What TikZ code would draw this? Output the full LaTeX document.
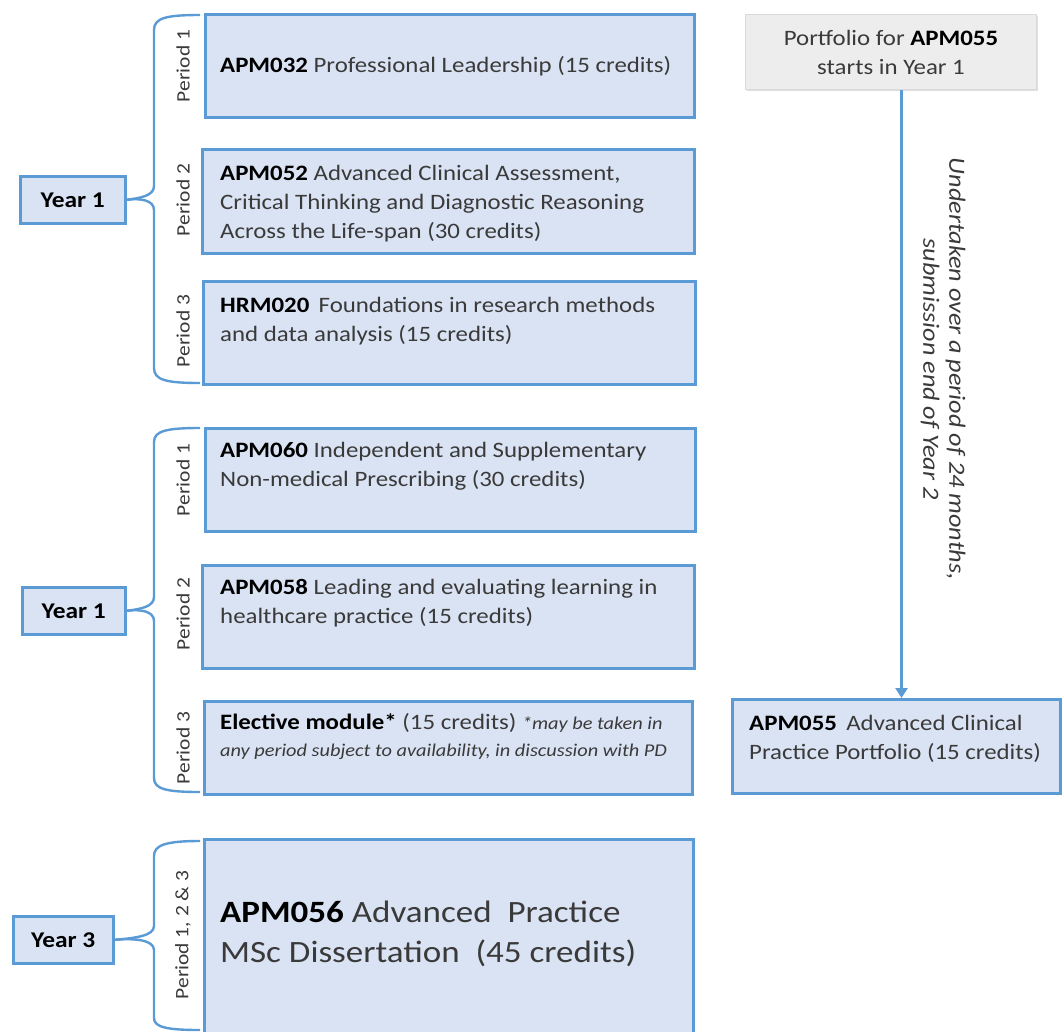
\documentclass[tikz,border=0pt]{standalone}
\usepackage{fontspec}
\setmainfont{Carlito}[FakeStretch=1.13]
\usetikzlibrary{shadows,arrows.meta}
\definecolor{bl}{HTML}{5B9BD5}
\definecolor{bfill}{HTML}{DAE3F3}
\definecolor{tx}{HTML}{3A3A3A}
\definecolor{gfill}{HTML}{EDEDED}
\definecolor{gline}{HTML}{DADADA}
\begin{document}
\begin{tikzpicture}[x=1pt,y=-1pt,
  box/.style={draw=bl, line width=2.6pt, fill=bfill, anchor=north west, inner sep=0pt,
    drop shadow={shadow xshift=1.2pt, shadow yshift=-1.2pt, opacity=0.25}},
  yearbox/.style={box, font=\fontsize{22.5}{25}\selectfont\bfseries, text=black},
  graybox/.style={draw=gline, line width=1pt, fill=gfill, anchor=north west, inner sep=0pt,
    drop shadow={shadow xshift=1.2pt, shadow yshift=-1.2pt, opacity=0.25}},
  txt/.style={anchor=base west, inner sep=0pt, align=left, text=tx, font=\fontsize{22}{29}\selectfont},
  per/.style={rotate=90, inner sep=0pt, text=tx, font=\fontsize{19}{22}\selectfont},
  brace/.style={draw=bl, line width=2.4pt},
  arr/.style={draw=bl, line width=3pt, -{Triangle[length=10pt,width=12pt]}}
]
\useasboundingbox[fill=white] (0,0) rectangle (1062,1031);

% ---------- Year 1 (first group)
\node[box, minimum width=489pt, minimum height=103pt] (b1) at (204,13) {};
\node[box, minimum width=492pt, minimum height=104pt] (b2) at (201,148) {};
\node[box, minimum width=492pt, minimum height=103pt] (b3) at (202,280) {};
\node[txt] (t1) at (220,72) {\textbf{\color{black}APM032} Professional Leadership (15 credits)};
\node[txt] (t2) at (220,238) {\textbf{\color{black}APM052} Advanced Clinical Assessment,\\Critical Thinking and Diagnostic Reasoning\\Across the Life-span (30 credits)};
\node[txt] (t3) at (220,341) {\textbf{\color{black}HRM020}\, Foundations in research methods\\and data analysis (15 credits)};

\node[yearbox, minimum width=105pt, minimum height=47pt] (y1) at (19,175) {Year 1};
\draw[brace] (y1.east) .. controls (140,198) and (154,196) .. (154,186) -- (154,30)
   .. controls (154,18) and (166,15) .. (200,15);
\draw[brace] (y1.east) .. controls (140,198) and (154,200) .. (154,210) -- (154,368)
   .. controls (154,380) and (166,383) .. (200,383);
\node[per] (p11) at (183,66) {Period 1};
\node[per] (p12) at (183,200) {Period 2};
\node[per] (p13) at (183,331) {Period 3};

% ---------- Year 1 (second group)
\node[box, minimum width=490pt, minimum height=103pt] (b4) at (204,427) {};
\node[box, minimum width=492pt, minimum height=103pt] (b5) at (201,564) {};
\node[box, minimum width=488pt, minimum height=93pt] (b6) at (203,700) {};
\node[txt] (t4) at (220,486) {\textbf{\color{black}APM060} Independent and Supplementary\\Non-medical Prescribing (30 credits)};
\node[txt] (t5) at (220,623) {\textbf{\color{black}APM058} Leading and evaluating learning in\\healthcare practice (15 credits)};
\node[txt, font=\fontsize{22}{27}\selectfont] (t6) at (220,756) {\textbf{\color{black}Elective module*} (15 credits) {\fontsize{18}{18}\selectfont\itshape *may be taken in}\\{\fontsize{18}{18}\selectfont\itshape any period subject to availability, in discussion with PD}};

\node[yearbox, minimum width=103pt, minimum height=47pt] (y2) at (21,586) {Year 1};
\draw[brace] (y2.east) .. controls (140,609) and (154,607) .. (154,597) -- (154,442)
   .. controls (154,431) and (166,428) .. (200,428);
\draw[brace] (y2.east) .. controls (140,609) and (154,611) .. (154,621) -- (154,778)
   .. controls (154,789) and (166,792) .. (200,792);
\node[per] (p21) at (183,480) {Period 1};
\node[per] (p22) at (183,614) {Period 2};
\node[per] (p23) at (183,748) {Period 3};

% ---------- Year 3
\node[box, minimum width=489pt, minimum height=200pt] (b7) at (203,838) {};
\node[txt, font=\fontsize{31}{40}\selectfont] (t7) at (220,962) {\textbf{\color{black}APM056} Advanced\ \ Practice\\MSc Dissertation\ \ (45 credits)};
\node[yearbox, minimum width=100pt, minimum height=47pt] (y3) at (12,915) {Year 3};
\draw[brace] (y3.east) .. controls (135,938) and (154,936) .. (154,926) -- (154,856)
   .. controls (154,845) and (166,841) .. (200,841);
\draw[brace] (y3.east) .. controls (135,938) and (154,940) .. (154,950) -- (154,1018)
   .. controls (154,1027) and (166,1030) .. (200,1030);
\node[per] (p31) at (183,935) {Period 1, 2 \& 3};

% ---------- Portfolio
\node[graybox, minimum width=291pt, minimum height=75pt] (pf) at (745,14) {};
\node[anchor=center, align=center, inner sep=0pt, text=tx, font=\fontsize{22}{29}\selectfont] (pft) at (pf.center) {Portfolio for \textbf{\color{black}APM055}\\starts in Year 1};
\node[box, minimum width=328pt, minimum height=94pt] (b8) at (731,698) {};
\node[txt] (t8) at (749,759) {\textbf{\color{black}APM055}\, Advanced Clinical\\Practice Portfolio (15 credits)};
\draw[arr] ([xshift=10.5pt]pf.south) -- ([xshift=10.5pt]pf.south |- b8.north);
\node[rotate=-90, align=center, inner sep=0pt, text=tx, font=\fontsize{23.2}{26}\selectfont\itshape] (lab) at (943,369) {Undertaken over a period of 24 months,\\submission end of Year 2};
\end{tikzpicture}
\end{document}
